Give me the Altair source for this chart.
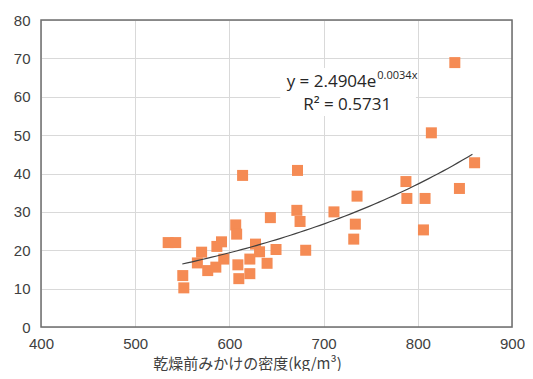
import altair as alt
import numpy as np
import pandas as pd

# scatter data
density = [535, 543, 550.5, 551.6, 570.5, 566, 577, 585.6, 591.6, 586.7, 594,
           606.7, 607.7, 614, 609, 610, 621.7, 621.7, 627.7, 632, 643.5, 640,
           649.5, 672.3, 671.6, 675, 681, 711, 735.5, 733.7, 732, 839.3, 814.4,
           860.3, 787.4, 788.4, 807.7, 844.2, 806]
strength = [22, 22, 13.4, 10.2, 19.5, 16.7, 14.7, 15.6, 22.2, 21, 17.7,
            26.6, 24.2, 39.5, 16.2, 12.6, 17.7, 13.9, 21.6, 19.6, 28.5, 16.6,
            20.2, 40.8, 30.4, 27.5, 20, 30, 34.1, 26.8, 22.9, 68.9, 50.6,
            42.8, 37.9, 33.5, 33.5, 36.1, 25.3]

x_ticks = [400, 500, 600, 700, 800, 900]
y_ticks = [0, 10, 20, 30, 40, 50, 60, 70, 80]
x_title = "乾燥前みかけの密度(kg/m³)"
eq_main = "y = 2.4904e"
eq_sup = "0.0034x"
r2_text = "R² = 0.5731"
trend_extent = [550, 858]

df = pd.DataFrame({"density": density, "value": strength})

# exponential trendline (least squares on ln y, as a spreadsheet trendline does)
b, ln_a = np.polyfit(np.array(density), np.log(np.array(strength)), 1)
tx = np.linspace(trend_extent[0], trend_extent[1], 60)
trend_df = pd.DataFrame({"density": tx, "value": np.exp(ln_a) * np.exp(b * tx)})

xs = alt.Scale(domain=[x_ticks[0], x_ticks[-1]], nice=False, zero=False)
ys = alt.Scale(domain=[y_ticks[0], y_ticks[-1]], nice=False)

label_font = "Liberation Sans"
BORDER = "#6e6e6e"
GRID = "#d9d9d9"

x_axis = alt.Axis(values=x_ticks, title=x_title, grid=True, gridColor=GRID,
                  ticks=False, tickSize=0, domain=False, labelPadding=9,
                  labelOverlap=False, labelFlush=False,
                  labelFont=label_font, labelFontSize=15, labelColor="#404040",
                  titleFont="Noto Sans CJK JP", titleFontSize=15, titleFontWeight="normal",
                  titleColor="#404040", titleX=206, titleY=29, titleAlign="center",
                  titleBaseline="top")
y_axis = alt.Axis(values=y_ticks, title=None, grid=True, gridColor=GRID,
                  ticks=False, tickSize=0, domain=False, labelPadding=11,
                  labelOverlap=False, labelFlush=False,
                  labelFont=label_font, labelFontSize=15, labelColor="#404040")


def X(field):
    return alt.X(field, scale=xs, axis=x_axis)


def Y(field):
    return alt.Y(field, scale=ys, axis=y_axis)


box_df = pd.DataFrame({"x": [654], "x2": [798], "y": [55], "y2": [67.5]})
box = alt.Chart(box_df).mark_rect(color="white").encode(
    x=X("x:Q"), x2="x2:Q", y=Y("y:Q"), y2="y2:Q",
)

# plot-area frame spanning the axis domain
frame_df = pd.DataFrame({"x": [x_ticks[0]], "x2": [x_ticks[-1]],
                         "y": [y_ticks[0]], "y2": [y_ticks[-1]]})
frame = alt.Chart(frame_df).mark_rect(
    fillOpacity=0, stroke=BORDER, strokeWidth=1.5
).encode(x=X("x:Q"), x2="x2:Q", y=Y("y:Q"), y2="y2:Q")

points = alt.Chart(df).mark_square(size=121, color="#F58B54", opacity=1).encode(
    x=X("density:Q"), y=Y("value:Q"),
)

trend = alt.Chart(trend_df).mark_line(color="#404040", strokeWidth=1.2).encode(
    x=X("density:Q"), y=Y("value:Q"),
)

ann_df = pd.DataFrame({
    "x": [756, 757, 725],
    "y": [62.6, 64.6, 56.6],
    "t": [eq_main, eq_sup, r2_text],
    "kind": ["main", "sup", "r2"],
})
ann_base = alt.Chart(ann_df)
t_main = ann_base.transform_filter(alt.datum.kind == "main").mark_text(
    font="Open Sans", fontSize=17, align="right", baseline="alphabetic", color="#262626"
).encode(x=X("x:Q"), y=Y("y:Q"), text="t:N")
t_sup = ann_base.transform_filter(alt.datum.kind == "sup").mark_text(
    font="Open Sans", fontSize=11, align="left", baseline="alphabetic", color="#262626"
).encode(x=X("x:Q"), y=Y("y:Q"), text="t:N")
t_r2 = ann_base.transform_filter(alt.datum.kind == "r2").mark_text(
    font="Open Sans", fontSize=17, align="center", baseline="alphabetic", color="#262626"
).encode(x=X("x:Q"), y=Y("y:Q"), text="t:N")

chart = alt.layer(box, frame, points, trend, t_main, t_sup, t_r2).properties(
    width=471, height=307,
    autosize=alt.AutoSizeParams(type="none"),
    padding={"left": 33, "top": 12, "right": 13, "bottom": 44},
).configure(
    background="white",
    view=alt.ViewConfig(strokeWidth=0),
)

chart.save("out.html", embed_options={"renderer": "svg", "actions": False})
